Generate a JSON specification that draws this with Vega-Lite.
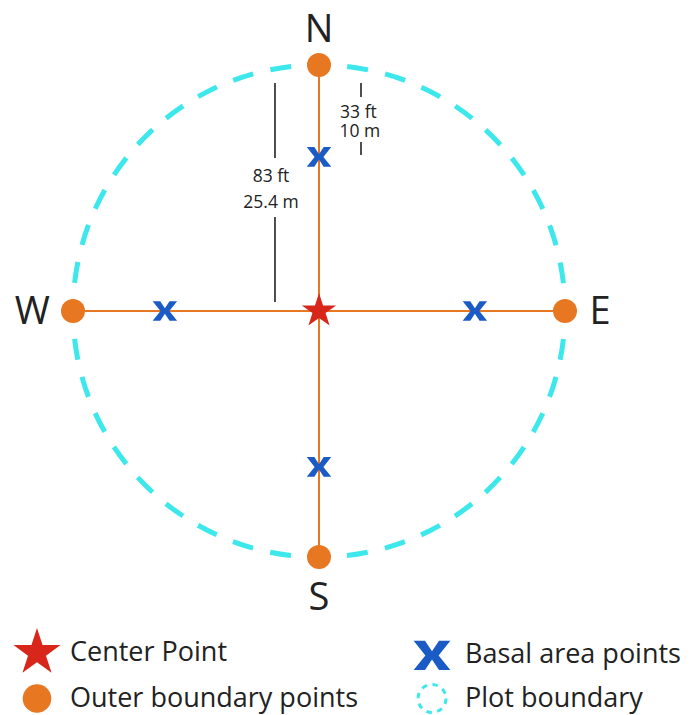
{
  "$schema": "https://vega.github.io/schema/vega-lite/v6.json",
  "width": 699,
  "height": 715,
  "autosize": {"type": "none"},
  "padding": 0,
  "background": "white",
  "config": {"view": {"stroke": null}, "font": "Open Sans"},
  "datasets": {
    "boundary": [{"type": "Plot boundary", "x": 0, "y": 0}],
    "points": [
      {"type": "Outer boundary points", "x": 0, "y": 83},
      {"type": "Outer boundary points", "x": 0, "y": -83},
      {"type": "Outer boundary points", "x": 83, "y": 0},
      {"type": "Outer boundary points", "x": -83, "y": 0},
      {"type": "Basal area points", "x": 0, "y": 52.0},
      {"type": "Basal area points", "x": 0, "y": -52.6},
      {"type": "Basal area points", "x": 52.6, "y": 0},
      {"type": "Basal area points", "x": -52.0, "y": 0},
      {"type": "Center Point", "x": 0, "y": 0}
    ],
    "transects": [
      {"x": -83, "y": 0, "x2": 83, "y2": 0},
      {"x": 0, "y": 83, "x2": 0, "y2": -83}
    ],
    "measures": [
      {"x": -14.85, "y": 76.9, "y2": 51.6},
      {"x": -14.85, "y": 31.7, "y2": 3.0},
      {"x": 14.17, "y": 76.9, "y2": 72.2},
      {"x": 14.17, "y": 57.0, "y2": 52.6}
    ],
    "measureText": [
      {"x": -16.2, "y": 45.2, "text": "83 ft"},
      {"x": -16.2, "y": 36.4, "text": "25.4 m"},
      {"x": 13.3, "y": 66.8, "text": "33 ft"},
      {"x": 13.8, "y": 60.4, "text": "10 m"}
    ],
    "dirs": [
      {"x": 0, "y": 95.3, "text": "N"},
      {"x": 0, "y": -96.5, "text": "S"},
      {"x": -96.7, "y": 0, "text": "W"},
      {"x": 94.8, "y": 0, "text": "E"}
    ]
  },
  "encoding": {
    "x": {"field": "x", "type": "quantitative", "scale": {"domain": [-107.63, 128.21], "nice": false, "zero": false}, "axis": null},
    "y": {"field": "y", "type": "quantitative", "scale": {"domain": [-136.31, 104.93], "nice": false, "zero": false}, "axis": null}
  },
  "layer": [
    {
      "data": {"name": "boundary"},
      "mark": {"type": "point", "filled": true, "opacity": 1, "size": 242064, "strokeWidth": 5, "strokeDash": [21, 17.64], "strokeDashOffset": 10.5},
      "encoding": {
        "shape": {
          "field": "type", "type": "nominal",
          "scale": {
            "domain": ["Center Point", "Outer boundary points", "Basal area points", "Plot boundary"],
            "range": [
              "M0,-1L0.2245,-0.309L0.951,-0.309L0.363,0.118L0.588,0.809L0,0.382L-0.588,0.809L-0.363,0.118L-0.951,-0.309L-0.2245,-0.309Z",
              "circle",
              "M-1,-0.8L-0.38,-0.8L0,-0.22L0.38,-0.8L1,-0.8L0.36,0L1,0.8L0.38,0.8L0,0.22L-0.38,0.8L-1,0.8L-0.36,0Z",
              "circle"
            ]
          },
          "legend": {
            "title": null,
            "orient": "none",
            "legendX": 23.5,
            "legendY": 639,
            "columns": 2,
            "columnPadding": 53,
            "rowPadding": 5,
            "padding": 0,
            "offset": 0,
            "labelFont": "Open Sans",
            "labelFontSize": 27,
            "labelColor": "#222222",
            "labelLimit": 0,
            "labelOffset": 19.5,
            "symbolSize": 1600,
            "symbolOpacity": 1,
            "encoding": {
              "symbols": {
                "size": {"value": {"expr": "datum.value === 'Center Point' ? 2450 : datum.value === 'Basal area points' ? 1350 : datum.value === 'Outer boundary points' ? 820 : 784"}},
                "strokeDash": {"value": {"expr": "datum.value === 'Plot boundary' ? [5.5, 5.5] : [1, 0]"}},
                "strokeWidth": {"value": {"expr": "datum.value === 'Plot boundary' ? 3 : 0"}}
              }
            }
          }
        },
        "fill": {
          "field": "type", "type": "nominal",
          "scale": {
            "domain": ["Center Point", "Outer boundary points", "Basal area points", "Plot boundary"],
            "range": ["#D8261A", "#E87722", "#1B5BC6", "transparent"]
          }
        },
        "stroke": {
          "field": "type", "type": "nominal",
          "scale": {
            "domain": ["Center Point", "Outer boundary points", "Basal area points", "Plot boundary"],
            "range": ["#D8261A", "#E87722", "#1B5BC6", "#3DE8EC"]
          }
        }
      }
    },
    {
      "data": {"name": "transects"},
      "mark": {"type": "rule", "color": "#E87722", "strokeWidth": 2},
      "encoding": {
        "x2": {"field": "x2"},
        "y2": {"field": "y2"}
      }
    },
    {
      "data": {"name": "measures"},
      "mark": {"type": "rule", "color": "#222222", "strokeWidth": 1.6},
      "encoding": {
        "y2": {"field": "y2"}
      }
    },
    {
      "data": {"name": "points"},
      "transform": [{"filter": "datum.type === 'Outer boundary points'"}],
      "mark": {"type": "point", "filled": true, "opacity": 1, "size": 576, "strokeWidth": 0},
      "encoding": {
        "shape": {"field": "type", "type": "nominal"},
        "fill": {"field": "type", "type": "nominal"},
        "stroke": {"field": "type", "type": "nominal"}
      }
    },
    {
      "data": {"name": "points"},
      "transform": [{"filter": "datum.type === 'Basal area points'"}],
      "mark": {"type": "point", "filled": true, "opacity": 1, "size": 600, "strokeWidth": 0},
      "encoding": {
        "shape": {"field": "type", "type": "nominal"},
        "fill": {"field": "type", "type": "nominal"},
        "stroke": {"field": "type", "type": "nominal"}
      }
    },
    {
      "data": {"name": "points"},
      "transform": [{"filter": "datum.type === 'Center Point'"}],
      "mark": {"type": "point", "filled": true, "opacity": 1, "size": 1300, "strokeWidth": 0},
      "encoding": {
        "shape": {"field": "type", "type": "nominal"},
        "fill": {"field": "type", "type": "nominal"},
        "stroke": {"field": "type", "type": "nominal"}
      }
    },
    {
      "data": {"name": "measureText"},
      "mark": {"type": "text", "font": "Open Sans", "fontSize": 17.5, "color": "#222222", "align": "center", "baseline": "middle"},
      "encoding": {"text": {"field": "text"}}
    },
    {
      "data": {"name": "dirs"},
      "mark": {"type": "text", "font": "Open Sans", "fontSize": 38, "color": "#222222", "align": "center", "baseline": "middle", "dy": 2},
      "encoding": {"text": {"field": "text"}}
    }
  ]
}
